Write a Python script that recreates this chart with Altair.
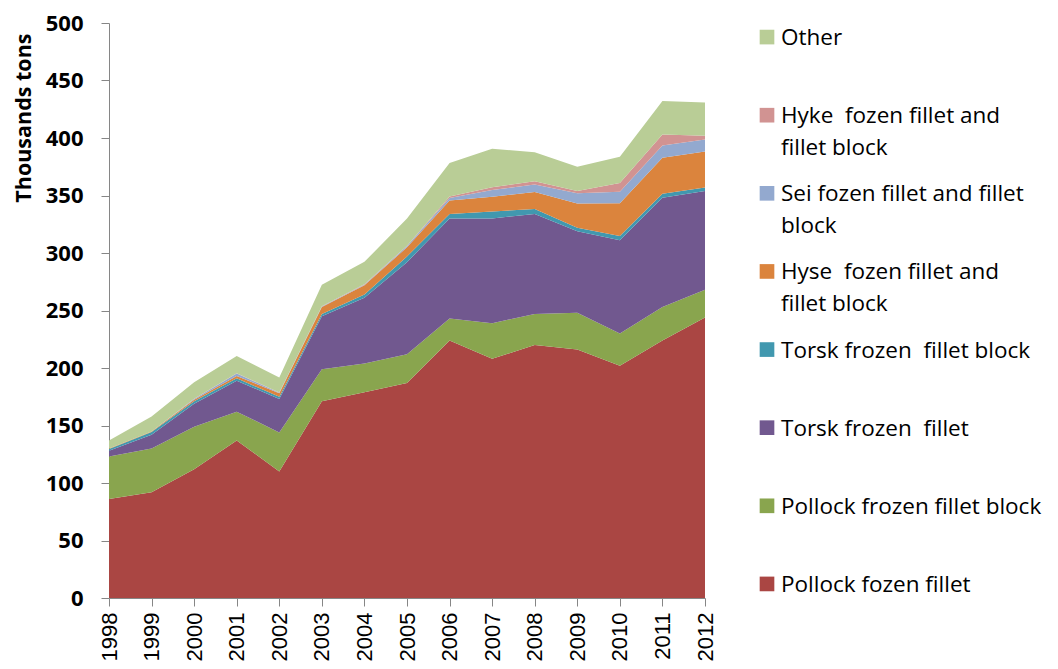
import altair as alt
import pandas as pd

years = list(range(1998, 2013))

series = [
    "Pollock fozen fillet",
    "Pollock frozen fillet block",
    "Torsk frozen  fillet",
    "Torsk frozen  fillet block",
    "Hyse  fozen fillet and fillet block",
    "Sei fozen fillet and fillet block",
    "Hyke  fozen fillet and fillet block",
    "Other",
]
legend_lines = [
    "Pollock fozen fillet",
    "Pollock frozen fillet block",
    "Torsk frozen\u00a0 fillet",
    "Torsk frozen\u00a0 fillet block",
    "Hyse\u00a0 fozen fillet and\nfillet block",
    "Sei fozen fillet and fillet\nblock",
    "Hyke\u00a0 fozen fillet and\nfillet block",
    "Other",
]
colors = ["#AA4643", "#89A54E", "#71588F", "#4198AF", "#DB843D", "#93A9CF", "#D19392", "#B9CD96"]

pollock_fillet = [86, 92, 112, 137, 110, 171, 179, 187, 224, 208, 220, 216, 202, 224, 244]
pollock_block = [37, 38, 37, 25, 34, 28, 25, 25, 19, 31, 27, 32, 28, 29, 24]
torsk_fillet = [5, 12, 20, 27, 29, 46, 57, 80, 87, 91, 87, 71, 81, 95, 86]
torsk_block = [1.5, 2.3, 2, 2, 2, 2, 3, 5, 4, 6, 4.3, 3, 3.8, 3.5, 3]
hyse = [0.5, 0.5, 1.5, 2, 3, 6, 8, 8, 11.6, 13, 14.8, 21, 28.4, 31.3, 31.3]
sei = [0, 0, 0.5, 2.2, 0.5, 0.5, 0.5, 1, 2.3, 5.8, 6.4, 9, 10.1, 10.7, 10.4]
hyke = [0, 0, 0.2, 0.3, 0.2, 0.3, 0.3, 0.3, 1.2, 2.3, 2.9, 2, 7.6, 9.6, 3.2]
other = [7, 13, 14.5, 15, 13, 18.6, 19.5, 23.7, 29.2, 33.6, 25.2, 21.1, 22.8, 29, 29]

values = [pollock_fillet, pollock_block, torsk_fillet, torsk_block, hyse, sei, hyke, other]

rows = []
for i, (name, vals) in enumerate(zip(series, values)):
    for y, v in zip(years, vals):
        rows.append({"Year": y, "Series": name, "Value": v, "order": i})
df = pd.DataFrame(rows)

legend_df = pd.DataFrame({
    "Series": series[::-1],
    "Label": legend_lines[::-1],
})

color_scale = alt.Scale(domain=series, range=colors)

area = alt.Chart(df).mark_area(opacity=1).encode(
    x=alt.X("Year:Q",
            scale=alt.Scale(domain=[1998, 2012], nice=False, zero=False),
            axis=alt.Axis(values=years, format="d", labelAngle=-90, title=None,
                          tickSize=8, labelPadding=6, labelFont="Liberation Sans",
                          labelFontSize=22, labelColor="#000000", domainColor="#868686",
                          tickColor="#868686", grid=False, labelFlush=False, labelOverlap=False)),
    y=alt.Y("Value:Q", stack="zero",
            scale=alt.Scale(domain=[0, 500], nice=False),
            axis=alt.Axis(values=list(range(0, 501, 50)), title="Thousands tons",
                          tickSize=8, labelPadding=18, labelFont="Open Sans",
                          labelFontWeight="bold", labelFontSize=22, labelColor="#000000",
                          titleFont="Open Sans", titleFontWeight="bold", titleFontSize=21.5,
                          titleColor="#000000", titlePadding=10,
                          titleAnchor="end", titleAlign="right", titleY=10,
                          domainColor="#868686", tickColor="#868686", grid=False)),
    color=alt.Color("Series:N", scale=color_scale, legend=None),
    order=alt.Order("order:Q", sort="ascending"),
).properties(width=596, height=575)

ypos = alt.Y("Series:N", sort=series[::-1],
             scale=alt.Scale(type="point", padding=0.18), axis=None)

squares = alt.Chart(legend_df).mark_square(size=215, opacity=1).encode(
    x=alt.value(14),
    y=ypos,
    color=alt.Color("Series:N", scale=color_scale, legend=None),
)
texts = alt.Chart(legend_df).mark_text(
    align="left", baseline="alphabetic", dy=8, fontSize=22.5, font="Open Sans",
    lineBreak="\n", lineHeight=32, color="#000000"
).encode(
    x=alt.value(28),
    y=ypos,
    text="Label:N",
)
legend = alt.layer(squares, texts).properties(width=280, height=575)

chart = alt.hconcat(area, legend, spacing=37).properties(
    padding={"left": 5, "top": 4, "right": 0, "bottom": 0}
).configure_view(strokeWidth=0, stroke="transparent")

chart.save("out.html", embed_options={"renderer": "svg", "actions": False})
